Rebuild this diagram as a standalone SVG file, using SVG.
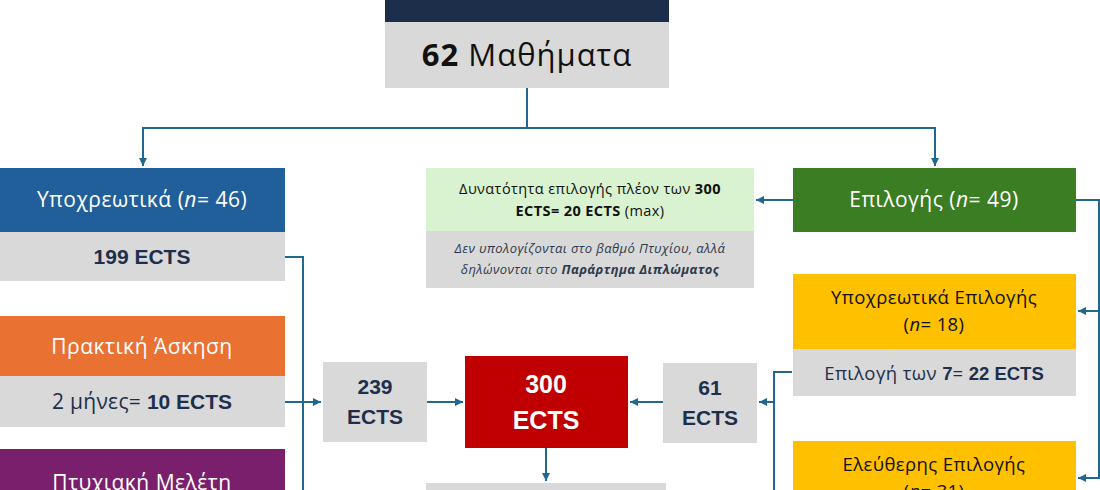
<svg xmlns="http://www.w3.org/2000/svg" width="1100" height="490" viewBox="0 0 1100 490">
<defs>
<marker id="ah" markerUnits="userSpaceOnUse" markerWidth="9" markerHeight="9" refX="8" refY="4.5" orient="auto">
<path d="M0,0.5 L8,4.5 L0,8.5 Z" fill="#20688f"/>
</marker>
<style>
.c{fill:none;stroke:#20688f;stroke-width:2}
.a{marker-end:url(#ah)}
.t{font-family:"Open Sans","Noto Sans","Liberation Sans",sans-serif;text-anchor:middle}
.b{font-family:"Liberation Sans",Arial,sans-serif;font-weight:bold;text-anchor:middle}
.w{fill:#ffffff}
.n{fill:#1d2f4c}
.k{fill:#111111}
.gray{fill:#d9d9d9}
.lb{font-family:"Liberation Sans",Arial,sans-serif;font-weight:bold;letter-spacing:0}
</style>
</defs>
<rect width="1100" height="490" fill="#ffffff"/>

<g id="connectors">
<path class="c a" d="M527,88 V128 H143 V166"/>
<path class="c a" d="M527,128 H935 V166"/>
<path class="c a" d="M793,200 H756"/>
<path class="c a" d="M1076,200 H1099 V478 H1078"/>
<path class="c a" d="M1099,311 H1078"/>
<path class="c" d="M285,257 H303 V492"/>
<path class="c a" d="M285,402 H321"/>
<path class="c a" d="M427,402 H463"/>
<path class="c a" d="M663,402 H630"/>
<path class="c" d="M792,372 H774 V492"/>
<path class="c a" d="M774,402 H759"/>
<path class="c a" d="M546,448 V481"/>
</g>

<g id="top">
<rect x="385" y="0" width="284" height="22" fill="#1c2e4a"/>
<rect class="gray" x="385" y="22" width="284" height="66"/>
<text class="t k" x="527" y="66" font-size="31" letter-spacing="1"><tspan font-weight="bold">62</tspan> Μαθήματα</text>
</g>

<g id="ypoxreotika">
<rect x="0" y="168" width="285" height="64" fill="#215f9a"/>
<text class="t w" x="142" y="207" font-size="21" letter-spacing="0.5">Υποχρεωτικά (<tspan font-style="italic">n</tspan>= 46)</text>
<rect class="gray" x="0" y="232" width="285" height="49"/>
<text class="b n" x="142" y="264" font-size="21">199 ECTS</text>
</g>

<g id="praktiki">
<rect x="0" y="316" width="285" height="60" fill="#e97132"/>
<text class="t w" x="142" y="354" font-size="21" letter-spacing="0.5">Πρακτική Άσκηση</text>
<rect class="gray" x="0" y="376" width="285" height="51"/>
<text class="t n" x="142" y="409" font-size="21" letter-spacing="0.3">2 μήνες= <tspan class="lb">10 ECTS</tspan></text>
</g>

<g id="ptyxiaki">
<rect x="0" y="449" width="285" height="45" fill="#7a1f6b"/>
<text class="t w" x="142" y="490" font-size="21" letter-spacing="0.5">Πτυχιακή Μελέτη</text>
</g>

<g id="ects239">
<rect class="gray" x="323" y="362" width="104" height="80"/>
<text class="b n" x="375" y="394" font-size="21">239</text>
<text class="b n" x="375" y="424" font-size="21">ECTS</text>
</g>

<g id="ects300">
<rect x="465" y="356" width="163" height="92" fill="#c00000"/>
<text class="b w" x="546" y="393" font-size="25">300</text>
<text class="b w" x="546" y="429" font-size="25">ECTS</text>
</g>

<g id="ects61">
<rect class="gray" x="663" y="363" width="94" height="80"/>
<text class="b n" x="710" y="395" font-size="21">61</text>
<text class="b n" x="710" y="425" font-size="21">ECTS</text>
</g>

<g id="bottom">
<rect class="gray" x="426" y="483" width="240" height="10"/>
</g>

<g id="extra">
<rect x="426" y="168" width="328" height="63" fill="#d9f2d0"/>
<text class="t k" x="590" y="194" font-size="14.5" letter-spacing="0.4">Δυνατότητα επιλογής πλέον των <tspan font-weight="bold">300</tspan></text>
<text class="t k" x="590" y="216" font-size="14.5" letter-spacing="0.4"><tspan font-weight="bold">ECTS= 20 ECTS</tspan> (max)</text>
<rect class="gray" x="426" y="231" width="328" height="57"/>
<text class="t" fill="#2e3a4c" x="590" y="253" font-size="13" letter-spacing="0.4" font-style="italic">Δεν υπολογίζονται στο βαθμό Πτυχίου, αλλά</text>
<text class="t" fill="#2e3a4c" x="590" y="274" font-size="13" letter-spacing="0.4" font-style="italic">δηλώνονται στο <tspan font-weight="bold">Παράρτημα Διπλώματος</tspan></text>
</g>

<g id="epilogis">
<rect x="793" y="168" width="283" height="64" fill="#3a7d22"/>
<text class="t w" x="934" y="207" font-size="21" letter-spacing="0.5">Επιλογής (<tspan font-style="italic">n</tspan>= 49)</text>
</g>

<g id="ypoxreotika-epilogis">
<rect x="793" y="274" width="283" height="75" fill="#ffc000"/>
<text class="t k" x="934" y="304" font-size="18.5" letter-spacing="0.4">Υποχρεωτικά Επιλογής</text>
<text class="t k" x="934" y="331" font-size="18.5" letter-spacing="0.4">(<tspan font-style="italic">n</tspan>= 18)</text>
<rect class="gray" x="793" y="349" width="283" height="47"/>
<text class="t n" x="934" y="380" font-size="18.5" letter-spacing="0.4">Επιλογή των <tspan class="lb">7</tspan>= <tspan class="lb">22 ECTS</tspan></text>
</g>

<g id="eleftheris">
<rect x="793" y="441" width="283" height="55" fill="#ffc000"/>
<text class="t k" x="934" y="471" font-size="18.5" letter-spacing="0.4">Ελεύθερης Επιλογής</text>
<text class="t k" x="934" y="498" font-size="18.5" letter-spacing="0.4">(<tspan font-style="italic">n</tspan>= 31)</text>
</g>
</svg>
